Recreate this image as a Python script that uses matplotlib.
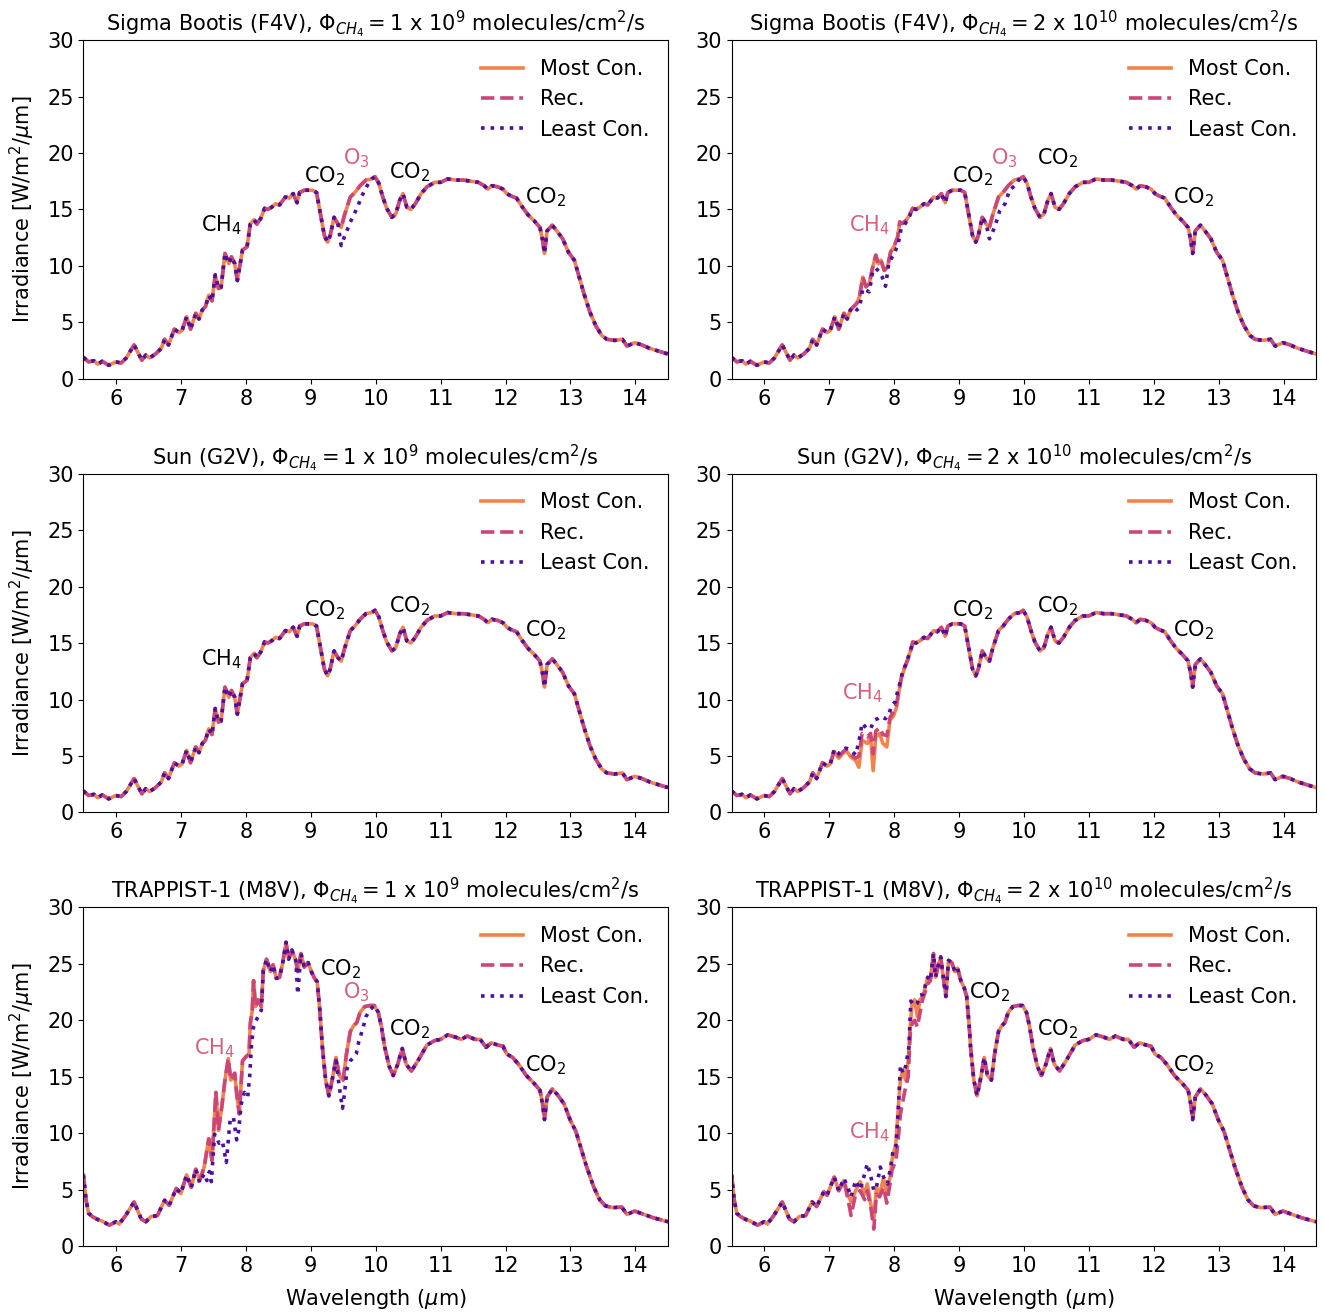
import numpy as np
import matplotlib
matplotlib.use("Agg")
import matplotlib.pyplot as plt

# ---- base spectra (Most Con.) ------------------------------------------
sun_wl = [5.50, 5.58, 5.66, 5.72, 5.79, 5.89, 6.00, 6.08, 6.16, 6.28,
          6.40, 6.46, 6.52, 6.61, 6.70, 6.75, 6.81, 6.90, 6.97, 7.02,
          7.09, 7.15, 7.23, 7.28, 7.33, 7.38, 7.43, 7.48, 7.53, 7.58,
          7.62, 7.68, 7.74, 7.78, 7.83, 7.87, 7.95, 8.02, 8.07, 8.13,
          8.17, 8.23, 8.29, 8.34, 8.40, 8.46, 8.52, 8.61, 8.67, 8.73,
          8.79, 8.83, 8.90, 8.96, 9.03, 9.09, 9.15, 9.21, 9.26, 9.30,
          9.36, 9.42, 9.47, 9.52, 9.61, 9.68, 9.76, 9.85, 9.94, 9.99,
          10.05, 10.11, 10.17, 10.25, 10.31, 10.37, 10.42, 10.48, 10.54, 10.61,
          10.70, 10.79, 10.91, 11.00, 11.11, 11.23, 11.35, 11.47, 11.58, 11.67,
          11.73, 11.79, 11.88, 11.96, 12.02, 12.08, 12.17, 12.26, 12.35, 12.44,
          12.53, 12.57, 12.60, 12.64, 12.72, 12.79, 12.88, 12.97, 13.06, 13.12,
          13.21, 13.30, 13.39, 13.48, 13.56, 13.68, 13.80, 13.87, 13.99, 14.10,
          14.22, 14.33, 14.50]
sun_irr = [1.9, 1.5, 1.6, 1.3, 1.55, 1.2, 1.5, 1.4, 1.85, 3.0,
           1.65, 2.1, 1.85, 2.2, 2.7, 3.5, 3.0, 4.4, 4.1, 4.3,
           5.5, 4.4, 5.8, 5.3, 6.1, 6.4, 7.4, 6.9, 9.2, 8.0,
           8.1, 11.1, 10.2, 10.8, 10.2, 8.7, 11.4, 11.7, 13.7, 14.1,
           13.7, 14.2, 15.1, 15.0, 15.2, 15.5, 15.4, 16.1, 16.0, 16.4,
           15.6, 16.5, 16.7, 16.7, 16.7, 16.5, 14.6, 12.7, 12.1, 12.7,
           14.3, 13.7, 13.4, 14.5, 16.1, 16.5, 17.1, 17.6, 17.7, 17.9,
           17.3, 16.1, 15.1, 14.3, 14.6, 15.8, 16.4, 15.2, 15.0, 15.5,
           16.4, 17.0, 17.4, 17.4, 17.7, 17.6, 17.6, 17.5, 17.4, 17.1,
           16.8, 17.1, 17.0, 16.8, 16.4, 16.2, 16.0, 15.2, 14.5, 14.0,
           13.4, 12.3, 11.1, 13.1, 13.6, 13.1, 12.4, 11.2, 10.5, 9.3,
           7.5, 5.9, 4.7, 3.85, 3.5, 3.4, 3.5, 2.9, 3.2, 3.0,
           2.7, 2.5, 2.2]

trap_wl = [5.50, 5.54, 5.58, 5.64, 5.72, 5.79, 5.90, 6.00, 6.05, 6.15,
           6.28, 6.39, 6.46, 6.54, 6.64, 6.75, 6.82, 6.93, 7.00, 7.09,
           7.16, 7.23, 7.29, 7.36, 7.43, 7.48, 7.54, 7.58, 7.63, 7.68,
           7.73, 7.77, 7.83, 7.86, 7.90, 7.95, 8.01, 8.05, 8.07, 8.10,
           8.12, 8.15, 8.19, 8.24, 8.27, 8.32, 8.38, 8.42, 8.47, 8.52,
           8.57, 8.62, 8.66, 8.71, 8.77, 8.80, 8.85, 8.90, 8.96, 9.01,
           9.06, 9.10, 9.14, 9.18, 9.23, 9.28, 9.34, 9.39, 9.44, 9.50,
           9.55, 9.61, 9.66, 9.71, 9.76, 9.83, 9.91, 9.98, 10.04, 10.09,
           10.14, 10.21, 10.27, 10.34, 10.41, 10.47, 10.55, 10.65, 10.79, 10.91,
           11.00, 11.11, 11.23, 11.32, 11.41, 11.53, 11.61, 11.70, 11.78, 11.88,
           11.96, 12.02, 12.11, 12.20, 12.32, 12.44, 12.53, 12.57, 12.60, 12.64,
           12.72, 12.80, 12.90, 13.00, 13.08, 13.16, 13.25, 13.36, 13.45, 13.54,
           13.65, 13.79, 13.87, 13.99, 14.13, 14.28, 14.50]
trap_irr = [6.3, 4.1, 2.9, 2.6, 2.35, 2.2, 1.85, 2.15, 1.95, 2.7,
            3.9, 2.4, 2.15, 2.6, 2.7, 4.05, 3.6, 5.1, 4.65, 6.3,
            5.2, 6.8, 5.8, 7.0, 9.5, 7.6, 13.6, 10.25, 12.3, 14.7,
            16.6, 14.7, 15.3, 13.5, 11.7, 16.4, 16.8, 17.0, 19.7, 20.9,
            23.5, 21.2, 21.8, 21.2, 24.4, 25.4, 24.3, 24.9, 23.7, 23.8,
            25.1, 26.9, 25.4, 26.2, 25.3, 24.3, 25.9, 24.7, 25.1, 24.3,
            23.7, 23.4, 20.9, 17.6, 14.7, 13.3, 15.0, 16.7, 15.1, 14.7,
            17.0, 19.0, 19.5, 19.8, 20.7, 21.2, 21.3, 21.3, 20.7, 19.4,
            17.6, 15.9, 15.1, 16.1, 17.5, 16.1, 15.5, 16.4, 17.8, 18.2,
            18.3, 18.7, 18.5, 18.3, 18.6, 18.3, 18.3, 17.6, 18.0, 17.8,
            17.7, 17.0, 16.7, 16.1, 15.1, 14.4, 13.8, 12.6, 11.2, 13.2,
            13.9, 13.4, 12.6, 11.1, 10.2, 8.7, 7.0, 5.2, 4.1, 3.55,
            3.4, 3.45, 2.8, 3.1, 2.8, 2.5, 2.15]

# ---- windows where the scenarios differ ----------------------------------
# Sigma Bootis, 1e9: O3 band, least constrained
f4v_lo_least_o3 = ([9.42, 9.47, 9.52, 9.57, 9.62, 9.67, 9.72, 9.78, 9.84, 9.90],
                   [13.7, 11.8, 12.6, 13.3, 14.0, 14.6, 15.2, 16.1, 16.8, 17.4])

# Sigma Bootis, 2e10
f4v_hi_most_ch4 = ([7.43, 7.47, 7.52, 7.57, 7.62, 7.67, 7.72, 7.76, 7.80, 7.85,
                    7.90, 7.95, 8.00, 8.06, 8.09, 8.13, 8.19, 8.24],
                   [6.7, 7.3, 9.0, 8.15, 8.45, 9.8, 10.95, 10.2, 10.5, 9.6,
                    9.9, 11.25, 11.7, 12.6, 13.9, 13.75, 14.05, 14.5])
f4v_hi_least_ch4 = ([7.43, 7.47, 7.52, 7.57, 7.62, 7.67, 7.72, 7.77, 7.82, 7.87,
                     7.92, 8.00, 8.06, 8.11, 8.16, 8.24],
                    [6.1, 6.3, 8.0, 7.85, 7.7, 9.4, 9.8, 9.5, 9.0, 8.2,
                     10.2, 11.1, 11.8, 13.3, 13.6, 14.4])
f4v_hi_least_o3 = ([9.42, 9.47, 9.55, 9.63, 9.71, 9.78, 9.86, 9.92],
                   [13.7, 12.4, 13.4, 14.9, 15.5, 16.7, 17.1, 17.6])

# Sun, 2e10: CH4 band
sun_hi_most_ch4 = ([7.08, 7.15, 7.26, 7.34, 7.41, 7.46, 7.51, 7.59, 7.64, 7.68,
                    7.72, 7.78, 7.83, 7.89, 7.94, 7.99, 8.04, 8.08, 8.12, 8.16,
                    8.21, 8.26],
                   [5.4, 4.8, 5.5, 4.9, 4.6, 4.0, 6.4, 6.1, 6.7, 3.7,
                    6.7, 7.0, 6.1, 5.8, 8.2, 8.5, 9.3, 10.8, 12.0, 12.7,
                    13.5, 14.4])
sun_hi_rec_ch4 = ([7.08, 7.15, 7.26, 7.34, 7.41, 7.46, 7.51, 7.59, 7.64, 7.68,
                   7.72, 7.78, 7.83, 7.89, 7.94, 7.99, 8.04, 8.08, 8.12, 8.16,
                   8.21, 8.26],
                  [5.5, 5.0, 5.6, 5.1, 4.8, 5.0, 7.0, 6.7, 7.0, 5.2,
                   7.2, 7.5, 6.9, 6.8, 8.4, 8.9, 9.6, 10.9, 12.1, 12.8,
                   13.5, 14.4])
sun_hi_least_ch4 = ([7.08, 7.15, 7.26, 7.34, 7.41, 7.46, 7.51, 7.57, 7.64, 7.70,
                     7.75, 7.80, 7.87, 7.92, 7.97, 8.02, 8.06, 8.10, 8.13, 8.19,
                     8.24],
                    [5.6, 5.2, 5.7, 5.5, 5.1, 6.25, 7.9, 7.5, 7.4, 8.2,
                     8.3, 8.5, 8.3, 8.7, 9.5, 9.8, 10.8, 11.6, 12.4, 13.2,
                     14.1])

# TRAPPIST-1, 1e9: least constrained
trap_lo_least_ch4 = ([7.23, 7.29, 7.36, 7.40, 7.44, 7.47, 7.52, 7.59, 7.64, 7.70,
                      7.76, 7.81, 7.86, 7.89, 7.93, 7.98, 8.03, 8.06, 8.09, 8.12,
                      8.17, 8.24, 8.27],
                     [6.8, 5.6, 6.4, 5.8, 6.6, 5.7, 9.9, 9.1, 9.3, 7.4,
                      11.2, 11.4, 9.4, 10.2, 12.6, 13.6, 13.2, 15.0, 18.0, 19.4,
                      20.1, 20.9, 24.4])
trap_lo_least_dip = ([8.80], [22.3])
trap_lo_least_o3 = ([9.39, 9.44, 9.47, 9.49, 9.52, 9.56, 9.61, 9.66, 9.70, 9.74,
                     9.80, 9.85, 9.91, 9.96],
                    [16.4, 14.1, 12.9, 12.2, 13.5, 15.7, 16.4, 16.7, 17.0, 18.1,
                     19.2, 20.3, 20.9, 21.2])

# TRAPPIST-1, 2e10
trap_hi_most = ([6.74, 6.81, 6.92, 6.97, 7.08, 7.15, 7.23, 7.29, 7.34, 7.41,
                 7.48, 7.55, 7.59, 7.65, 7.69, 7.73, 7.78, 7.84, 7.89, 7.94,
                 7.97, 8.03, 8.06, 8.10, 8.14, 8.18, 8.22, 8.25, 8.28, 8.32,
                 8.36, 8.40, 8.44, 8.47, 8.52, 8.56, 8.61, 8.64, 8.68, 8.72,
                 8.76, 8.80, 8.84, 8.89, 8.94, 8.98, 9.03, 9.08, 9.12, 9.16],
                [3.9, 3.5, 4.8, 4.5, 6.1, 4.9, 5.8, 4.6, 3.9, 4.9,
                 5.7, 4.6, 5.5, 3.5, 2.3, 5.2, 4.6, 6.0, 4.6, 6.1,
                 7.6, 9.1, 11.7, 14.7, 15.6, 14.7, 16.4, 19.4, 21.5, 21.8,
                 20.3, 21.8, 22.1, 22.6, 23.8, 23.5, 25.9, 23.8, 24.8, 25.6,
                 23.8, 22.1, 25.3, 25.1, 24.3, 24.6, 23.5, 22.9, 22.1, 19.4])
trap_hi_rec = ([7.23, 7.29, 7.34, 7.41, 7.48, 7.55, 7.59, 7.65, 7.69, 7.73,
                7.78, 7.84, 7.89, 7.94, 7.97, 8.03, 8.06, 8.10, 8.14, 8.18,
                8.22, 8.25, 8.28, 8.32, 8.36, 8.40, 8.44, 8.47, 8.52],
               [5.8, 4.2, 2.7, 4.6, 4.9, 4.1, 4.9, 3.2, 1.5, 4.6,
                4.35, 5.2, 3.8, 5.5, 6.7, 7.6, 9.1, 11.7, 12.9, 14.1,
                15.0, 18.8, 19.7, 20.0, 19.4, 20.6, 21.8, 22.3, 23.2])
trap_hi_least = ([7.23, 7.29, 7.34, 7.41, 7.48, 7.54, 7.59, 7.65, 7.69, 7.73,
                  7.79, 7.84, 7.90, 7.95, 7.99, 8.03, 8.06, 8.10, 8.14, 8.18,
                  8.23, 8.26, 8.31, 8.36, 8.40, 8.45, 8.50],
                 [6.0, 5.2, 4.35, 5.8, 5.0, 6.2, 7.3, 6.0, 4.9, 5.2,
                  7.0, 6.1, 5.5, 7.0, 8.6, 8.8, 11.4, 16.0, 15.3, 15.9,
                  17.6, 21.7, 21.3, 21.5, 22.2, 22.3, 23.5])

PINK = "#d6607a"

panels = [
    dict(title=r"Sigma Bootis (F4V), $\Phi_{CH_4} = 1$ x $10^{9}$ molecules/cm$^2$/s",
         base=(sun_wl, sun_irr), most=[], rec=[], least=[f4v_lo_least_o3],
         labels=[("CH$_4$", 7.62, 13.6, "black"), ("CO$_2$", 9.21, 17.9, "black"),
                 ("O$_3$", 9.71, 19.5, PINK), ("CO$_2$", 10.52, 18.3, "black"),
                 ("CO$_2$", 12.62, 16.1, "black")]),
    dict(title=r"Sigma Bootis (F4V), $\Phi_{CH_4} = 2$ x $10^{10}$ molecules/cm$^2$/s",
         base=(sun_wl, sun_irr), most=[f4v_hi_most_ch4], rec=[],
         least=[f4v_hi_least_ch4, f4v_hi_least_o3],
         labels=[("CH$_4$", 7.62, 13.6, PINK), ("CO$_2$", 9.21, 17.9, "black"),
                 ("O$_3$", 9.70, 19.5, PINK), ("CO$_2$", 10.52, 19.5, "black"),
                 ("CO$_2$", 12.62, 16.1, "black")]),
    dict(title=r"Sun (G2V), $\Phi_{CH_4} = 1$ x $10^{9}$ molecules/cm$^2$/s",
         base=(sun_wl, sun_irr), most=[], rec=[], least=[],
         labels=[("CH$_4$", 7.62, 13.6, "black"), ("CO$_2$", 9.21, 17.9, "black"),
                 ("CO$_2$", 10.52, 18.3, "black"), ("CO$_2$", 12.62, 16.1, "black")]),
    dict(title=r"Sun (G2V), $\Phi_{CH_4} = 2$ x $10^{10}$ molecules/cm$^2$/s",
         base=(sun_wl, sun_irr), most=[sun_hi_most_ch4], rec=[sun_hi_rec_ch4],
         least=[sun_hi_least_ch4],
         labels=[("CH$_4$", 7.52, 10.6, PINK), ("CO$_2$", 9.21, 17.9, "black"),
                 ("CO$_2$", 10.52, 18.3, "black"), ("CO$_2$", 12.62, 16.1, "black")]),
    dict(title=r"TRAPPIST-1 (M8V), $\Phi_{CH_4} = 1$ x $10^{9}$ molecules/cm$^2$/s",
         base=(trap_wl, trap_irr), most=[], rec=[],
         least=[trap_lo_least_ch4, trap_lo_least_dip, trap_lo_least_o3],
         labels=[("CH$_4$", 7.52, 17.5, PINK), ("CO$_2$", 9.46, 24.5, "black"),
                 ("O$_3$", 9.71, 22.5, PINK), ("CO$_2$", 10.52, 19.2, "black"),
                 ("CO$_2$", 12.62, 16.0, "black")]),
    dict(title=r"TRAPPIST-1 (M8V), $\Phi_{CH_4} = 2$ x $10^{10}$ molecules/cm$^2$/s",
         base=(trap_wl, trap_irr), most=[trap_hi_most], rec=[trap_hi_rec],
         least=[trap_hi_least],
         labels=[("CH$_4$", 7.62, 10.1, PINK), ("CO$_2$", 9.47, 22.5, "black"),
                 ("CO$_2$", 10.52, 19.2, "black"), ("CO$_2$", 12.62, 16.0, "black")]),
]


def splice(base, windows):
    wl = np.asarray(base[0], dtype=float)
    irr = np.asarray(base[1], dtype=float)
    for w_wl, w_irr in windows:
        w_wl = np.asarray(w_wl, dtype=float)
        keep = (wl < w_wl[0]) | (wl > w_wl[-1])
        wl = np.concatenate([wl[keep], w_wl])
        irr = np.concatenate([irr[keep], np.asarray(w_irr, dtype=float)])
        order = np.argsort(wl, kind="stable")
        wl, irr = wl[order], irr[order]
    return wl, irr


fig, axes = plt.subplots(3, 2, figsize=(13.24, 13.13), dpi=100)
fig.subplots_adjust(left=0.063, right=0.994, top=0.9695, bottom=0.051,
                    wspace=0.109, hspace=0.28)

for ax, p in zip(axes.flat, panels):
    most = splice(p["base"], p["most"])
    rec = splice(p["base"], p["most"] + p["rec"])
    least = splice(p["base"], p["most"] + p["least"])

    ax.plot(*most, color="#f1844b", lw=2.6, label="Most Con.")
    ax.plot(*rec, color="#cc4778", lw=2.6, ls="--", label="Rec.")
    ax.plot(*least, color="#4c0fa0", lw=2.6, ls=":", label="Least Con.")

    for text, x, y, c in p["labels"]:
        ax.text(x, y, text, color=c, fontsize=15, ha="center", va="center")

    ax.set_xlim(5.5, 14.5)
    ax.set_ylim(0, 30)
    ax.set_xticks(range(6, 15))
    ax.set_yticks(range(0, 31, 5))
    ax.tick_params(labelsize=15)
    ax.set_title(p["title"], fontsize=15)
    ax.legend(loc="upper right", frameon=False, fontsize=15)

for ax in axes[:, 0]:
    ax.set_ylabel(r"Irradiance [W/m$^2$/$\mu$m]", fontsize=15, labelpad=7)
for ax in axes[-1, :]:
    ax.set_xlabel(r"Wavelength ($\mu$m)", fontsize=15, labelpad=8)

fig.savefig("out.png", dpi=100)
